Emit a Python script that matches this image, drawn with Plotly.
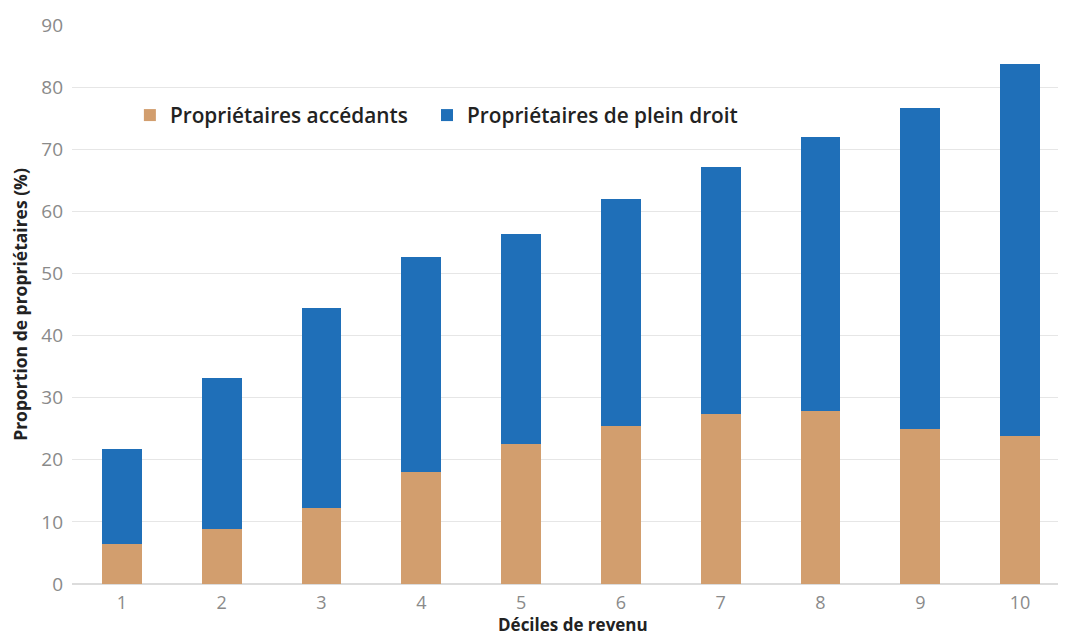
import plotly.graph_objects as go

deciles = ["1", "2", "3", "4", "5", "6", "7", "8", "9", "10"]
accedants = [6.4, 8.8, 12.2, 18.0, 22.6, 25.5, 27.3, 27.9, 25.0, 23.8]
totals = [21.8, 33.2, 44.5, 52.6, 56.3, 62.0, 67.1, 71.9, 76.6, 83.8]
plein_droit = [round(t - a, 1) for t, a in zip(totals, accedants)]

fig = go.Figure()
fig.add_trace(go.Bar(x=deciles, y=accedants, name="Propriétaires accédants",
                     marker=dict(color="#D29E6E", line=dict(width=0)), legend="legend"))
fig.add_trace(go.Bar(x=deciles, y=plein_droit, name="Propriétaires de plein droit",
                     marker=dict(color="#1F6FB8", line=dict(width=0)), legend="legend2"))

legend_font = dict(size=20.8, color="#222", family="Open Sans, sans-serif", weight=600)

fig.update_layout(
    barmode="stack",
    bargap=0.6,
    width=1066, height=635,
    margin=dict(l=64, r=4, t=15, b=59),
    plot_bgcolor="white", paper_bgcolor="white",
    font=dict(family="Open Sans, sans-serif", color="#888"),
    showlegend=True,
    legend=dict(orientation="h", x=0.058, y=0.838, xanchor="left", yanchor="middle",
                font=legend_font, itemwidth=30, bgcolor="rgba(0,0,0,0)"),
    legend2=dict(orientation="h", x=0.3557, y=0.838, xanchor="left", yanchor="middle",
                 font=legend_font, itemwidth=30, bgcolor="rgba(0,0,0,0)"),
    xaxis=dict(tickfont=dict(size=18, color="#8a8a8a"), ticklabelstandoff=6,
               showline=False, ticks=""),
    yaxis=dict(title=dict(text="Proportion de propriétaires (%)",
                          font=dict(size=17.5, color="#222", weight="bold"), standoff=10),
               range=[0, 90], dtick=10, tickfont=dict(size=19, color="#8a8a8a"),
               ticklabelstandoff=8,
               gridcolor="#e6e6e6", gridwidth=1, zeroline=True, zerolinecolor="#dcdcdc",
               showline=False, ticks=""),
    annotations=[dict(text="Déciles de revenu", xref="paper", yref="paper",
                      x=0.502, y=-0.0731, xanchor="center", yanchor="middle",
                      showarrow=False,
                      font=dict(size=17, color="#222", weight="bold",
                                family="Open Sans, sans-serif"))],
)

fig.write_html("out.html")
